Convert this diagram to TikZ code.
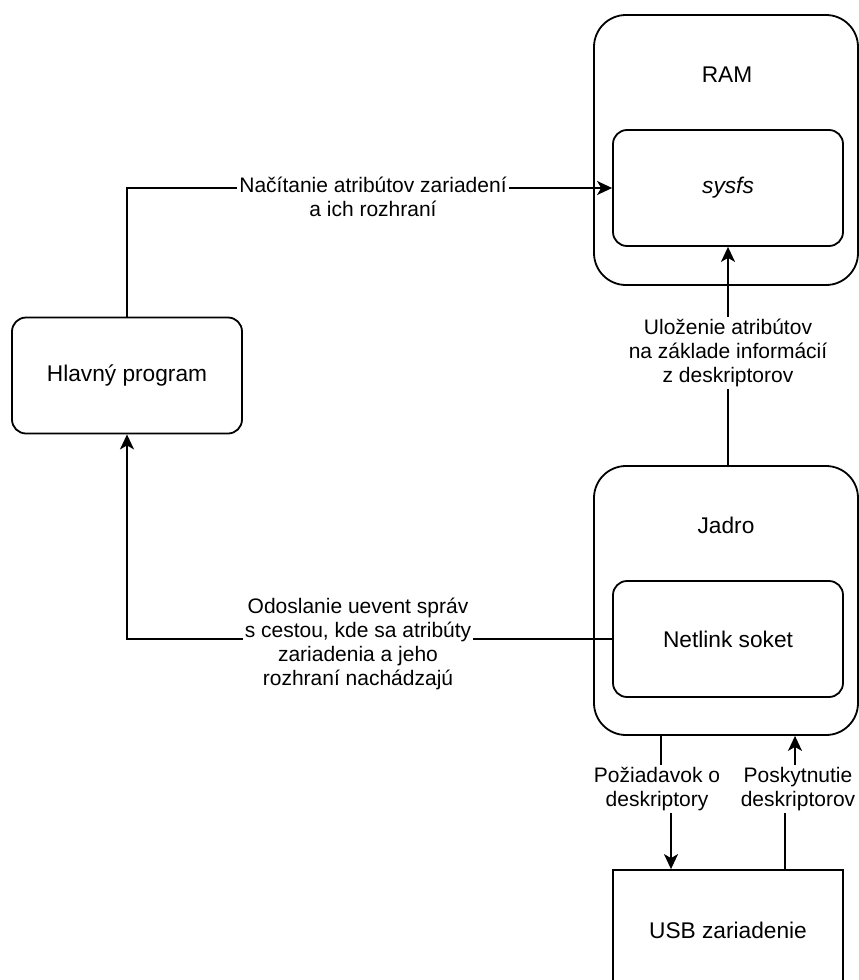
\documentclass[tikz,border=0pt]{standalone}
\usepackage{fontspec}
\setmainfont{Liberation Sans}
\usepackage{tikz}
\usetikzlibrary{positioning}
\usetikzlibrary{arrows.meta}
\tikzset{
  boxfont/.style={font=\fontsize{22.7}{26}\selectfont},
  outerbox/.style={draw,line width=1.8pt,rounded corners=32pt,minimum width=264pt,minimum height=270pt},
  innerbox/.style={draw,boxfont,line width=1.8pt,rounded corners=14pt,minimum width=230pt,minimum height=116pt},
  plainbox/.style={draw,boxfont,line width=1.8pt,minimum width=230pt,minimum height=120pt},
  edgelabel/.style={fill=white,align=center,inner sep=2pt},
  conn/.style={line width=1.8pt,-{Stealth[length=15pt,width=14pt,inset=4pt]}}
}

\begin{document}
\begin{tikzpicture}[x=1pt,y=-1pt,font=\fontsize{21}{24}\selectfont]
\clip (0,0) rectangle (859,980);
\node[outerbox] (ram) at (726,150) {};
\node[boxfont] (ramtitle) at (727,75) {RAM};
\node[innerbox] (sysfs) at (728,188) {\textit{sysfs}};
\node[innerbox] (hlavny) at (127,375.5) {Hlavný program};
\node[outerbox,minimum height=269pt] (jadro) at (726,600.5) {};
\node[boxfont] (jadrotitle) at (726,525) {Jadro};
\node[innerbox] (netlink) at (728,639) {Netlink soket};
\node[plainbox] (usb) at (728,930) {USB zariadenie};

\draw[conn] (hlavny.north) |- (sysfs.west);
\node[edgelabel] (lblread) at (373,197) {Načítanie atribútov zariadení\\a ich rozhraní};
\draw[conn] (jadro.north -| sysfs.south) -- (sysfs.south);
\node[edgelabel] (lblstore) at (728,353) {Uloženie atribútov\\na základe informácií\\z deskriptorov};
\draw[conn] (netlink.west) -| (hlavny.south);
\node[edgelabel] (lblsend) at (358,644) {Odoslanie uevent správ\\s cestou, kde sa atribúty\\zariadenia a jeho\\rozhraní nachádzajú};

\coordinate (askjog) at (666,790);
\draw[conn] ([xshift=-65pt]jadro.south) |- (askjog) -| ([xshift=-57pt]usb.north);
\node[edgelabel] (lblask) at (657,789) {Požiadavok o\\deskriptory};
\coordinate (givejog) at (790,790);
\draw[conn] ([xshift=57pt]usb.north) |- (givejog) -| ([xshift=69pt]jadro.south);
\node[edgelabel] (lblgive) at (798,789) {Poskytnutie\\deskriptorov};
\end{tikzpicture}
\end{document}
